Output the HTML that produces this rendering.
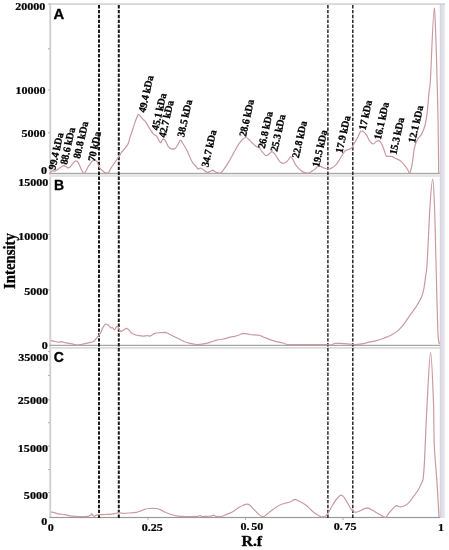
<!DOCTYPE html>
<html><head><meta charset="utf-8"><style>
html,body{margin:0;padding:0;background:#fff;}
body{width:449px;height:550px;overflow:hidden;}
svg{display:block;}
text{filter:grayscale(1);}
</style></head><body>
<svg width="449" height="550" viewBox="0 0 449 550">
<rect width="449" height="550" fill="#fff"/>
<defs><linearGradient id="band" x1="0" x2="1" y1="0" y2="0"><stop offset="0" stop-color="#cfcfd7"/><stop offset="0.3" stop-color="#dddbe6"/><stop offset="0.7" stop-color="#e4e2ec"/><stop offset="1" stop-color="#f1f0f5"/></linearGradient></defs>
<rect x="439.8" y="4" width="5.4" height="514" fill="url(#band)"/>
<rect x="49.4" y="3.3" width="395.6" height="1.5" fill="#cfcfcf"/>
<rect x="49.3" y="3.3" width="1.9" height="514.5" fill="#d0d0d0"/>
<rect x="49.4" y="172.8" width="390.6" height="1.3" fill="#a9a9a9"/>
<rect x="49.4" y="174.1" width="390.6" height="2.9" fill="#e6e6e6"/>
<rect x="49.4" y="344.8" width="390.6" height="1.1" fill="#9c9c9c"/>
<rect x="49.4" y="347" width="390.6" height="1.8" fill="#dcdcdc"/>
<rect x="49.4" y="516.9" width="390.6" height="1.2" fill="#9a9a9a"/>
<rect x="48" y="3.5" width="2" height="1" fill="#b0b0b0"/>
<rect x="48" y="48.3" width="2" height="1" fill="#b0b0b0"/>
<rect x="48" y="89.5" width="2" height="1" fill="#b0b0b0"/>
<rect x="48" y="132.3" width="2" height="1" fill="#b0b0b0"/>
<rect x="48" y="234.0" width="2" height="1" fill="#b0b0b0"/>
<rect x="48" y="289.5" width="2" height="1" fill="#b0b0b0"/>
<rect x="48" y="350.9" width="2" height="1" fill="#b0b0b0"/>
<rect x="48" y="374.9" width="2" height="1" fill="#b0b0b0"/>
<rect x="48" y="399.3" width="2" height="1" fill="#b0b0b0"/>
<rect x="48" y="422.2" width="2" height="1" fill="#b0b0b0"/>
<rect x="48" y="445.5" width="2" height="1" fill="#b0b0b0"/>
<rect x="48" y="469.1" width="2" height="1" fill="#b0b0b0"/>
<rect x="48" y="492.0" width="2" height="1" fill="#b0b0b0"/>
<rect x="147.5" y="518" width="1" height="2" fill="#b0b0b0"/>
<rect x="245.0" y="518" width="1" height="2" fill="#b0b0b0"/>
<rect x="342.5" y="518" width="1" height="2" fill="#b0b0b0"/>
<line x1="99.0" y1="5" x2="99.0" y2="518" stroke="#1a1a1a" stroke-width="2.0" stroke-dasharray="3.4 1.5"/>
<line x1="118.8" y1="5" x2="118.8" y2="518" stroke="#1a1a1a" stroke-width="2.0" stroke-dasharray="3.4 1.5"/>
<line x1="327.9" y1="5" x2="327.9" y2="518" stroke="#1a1a1a" stroke-width="1.4" stroke-dasharray="3.4 1.5"/>
<line x1="352.8" y1="5" x2="352.8" y2="518" stroke="#1a1a1a" stroke-width="1.4" stroke-dasharray="3.4 1.5"/>
<path d="M49.70,173.40C49.97,173.12 50.75,172.17 51.30,171.70C51.85,171.23 52.43,170.68 53.00,170.60C53.57,170.60 54.05,171.20 54.70,171.20C55.35,171.10 56.17,170.47 56.90,170.00C57.63,169.53 58.35,168.95 59.10,168.40C59.85,167.85 60.65,167.17 61.40,166.70C62.15,166.23 62.87,165.63 63.60,165.60C64.33,165.60 65.07,166.13 65.80,166.50C66.53,166.87 67.25,167.77 68.00,167.80C68.75,167.80 69.55,167.35 70.30,166.70C71.05,166.05 71.67,164.83 72.50,163.90C73.33,162.97 74.55,161.57 75.30,161.10C76.05,161.10 76.45,161.10 77.00,161.10C77.55,161.48 77.95,162.18 78.60,163.40C79.25,164.62 80.15,166.83 80.90,168.40C81.65,169.97 82.55,171.97 83.10,172.80C83.65,173.40 83.73,173.40 84.20,173.40C84.67,173.13 85.25,172.32 85.90,171.20C86.55,170.08 87.27,168.10 88.10,166.70C88.93,165.30 90.07,163.82 90.90,162.80C91.73,161.78 92.45,161.07 93.10,160.60C93.75,160.13 94.15,160.00 94.80,160.00C95.45,160.18 96.33,160.68 97.00,161.70C97.67,162.72 98.07,164.73 98.80,166.10C99.53,167.47 100.45,168.88 101.40,169.90C102.35,170.92 103.55,171.67 104.50,172.20C105.45,172.73 106.35,173.10 107.10,173.10C107.85,173.03 108.27,172.77 109.00,171.80C109.73,170.83 110.43,169.00 111.50,167.30C112.57,165.60 114.23,163.28 115.40,161.60C116.57,159.92 117.45,158.78 118.50,157.20C119.55,155.62 120.53,153.70 121.70,152.10C122.87,150.50 124.43,148.98 125.50,147.60C126.57,146.22 127.25,145.82 128.10,143.80C128.95,141.78 129.75,138.15 130.60,135.50C131.45,132.85 132.35,130.43 133.20,127.90C134.05,125.37 134.85,122.53 135.70,120.30C136.55,118.07 137.55,115.25 138.30,114.50C139.05,114.50 139.37,114.95 140.20,115.80C141.03,116.65 142.48,118.70 143.30,119.60C144.12,120.50 143.88,119.60 145.10,121.20C146.32,122.97 149.12,127.97 150.60,130.20C152.08,132.43 153.07,133.68 154.00,134.60C154.93,135.52 155.28,134.60 156.20,135.70C157.12,136.82 158.75,140.10 159.50,141.30C160.25,142.50 160.13,142.90 160.70,142.90C161.27,142.53 162.17,139.55 162.90,139.10C163.63,139.10 164.17,139.10 165.10,140.20C166.03,141.50 167.38,145.42 168.50,146.90C169.62,148.38 170.70,148.82 171.80,149.10C172.90,149.10 173.98,149.10 175.10,148.60C176.22,147.67 177.63,144.90 178.50,143.50C179.37,142.10 179.57,140.20 180.30,140.20C181.03,140.20 181.72,141.65 182.90,143.50C184.08,145.35 185.92,148.33 187.40,151.30C188.88,154.27 190.32,158.70 191.80,161.30C193.28,163.90 195.22,165.60 196.30,166.90C197.38,168.20 197.58,168.92 198.30,169.10C199.02,169.10 199.67,168.00 200.60,168.00C201.53,168.18 202.80,169.47 203.90,170.20C205.00,170.93 206.08,172.22 207.20,172.40C208.32,172.40 209.67,171.67 210.60,171.30C211.53,170.93 211.87,170.20 212.80,170.20C213.73,170.38 214.90,171.92 216.20,172.40C217.50,172.88 219.30,173.10 220.60,173.10C221.90,172.55 222.70,170.88 224.00,169.10C225.30,167.32 226.73,165.18 228.40,162.40C230.07,159.62 232.33,155.37 234.00,152.40C235.67,149.43 236.92,146.83 238.40,144.60C239.88,142.37 241.67,140.18 242.90,139.00C244.13,137.82 244.87,137.50 245.80,137.50C246.73,137.50 247.32,138.00 248.50,139.00C249.68,140.00 251.62,142.27 252.90,143.50C254.18,144.73 255.08,145.67 256.20,146.40C257.32,147.13 258.67,147.08 259.60,147.90C260.53,148.72 260.68,150.00 261.80,151.30C262.92,152.60 265.00,155.33 266.30,155.70C267.60,155.70 268.68,154.17 269.60,153.50C270.52,152.83 270.87,151.70 271.80,151.70C272.73,151.88 273.90,153.00 275.20,154.60C276.50,156.20 278.22,159.85 279.60,161.30C280.98,162.75 282.23,163.30 283.50,163.30C284.77,163.30 286.02,162.38 287.20,161.30C288.38,160.22 289.67,157.17 290.60,156.80C291.53,156.80 291.87,157.62 292.80,159.10C293.73,160.58 294.90,163.85 296.20,165.70C297.50,167.55 299.30,169.08 300.60,170.20C301.90,171.32 302.70,171.92 304.00,172.40C305.30,172.88 307.12,173.10 308.40,173.10C309.68,172.92 310.58,171.97 311.70,171.30C312.82,170.63 313.98,170.03 315.10,169.10C316.22,168.17 317.47,166.15 318.40,165.70C319.33,165.70 319.77,166.02 320.70,166.40C321.63,166.78 322.70,167.55 324.00,168.00C325.30,168.45 327.20,169.10 328.50,169.10C329.80,169.10 330.70,168.57 331.80,168.00C332.90,167.43 333.98,166.82 335.10,165.70C336.22,164.58 337.38,162.97 338.50,161.30C339.62,159.63 340.68,157.45 341.80,155.70C342.92,153.95 344.08,151.83 345.20,150.80C346.32,149.77 347.40,149.98 348.50,149.50C349.60,149.02 350.87,148.90 351.80,147.90C352.73,146.90 353.17,145.17 354.10,143.50C355.03,141.83 356.30,139.95 357.40,137.90C358.50,135.85 359.77,132.32 360.70,131.20C361.63,131.20 362.07,131.20 363.00,131.20C363.93,131.77 365.18,132.93 366.30,134.60C367.42,136.27 368.58,139.63 369.70,141.20C370.82,142.77 371.97,143.90 373.00,144.00C374.03,144.00 374.88,142.35 375.90,141.80C376.92,141.25 378.05,140.70 379.10,140.70C380.15,141.22 381.30,143.15 382.20,144.90C383.10,146.65 383.77,149.30 384.50,151.20C385.23,153.10 385.42,155.43 386.60,156.30C387.78,156.40 390.07,156.30 391.60,156.40C393.13,156.77 394.40,157.80 395.80,158.50C397.20,159.20 398.60,159.55 400.00,160.60C401.40,161.65 402.98,163.40 404.20,164.80C405.42,166.20 406.37,167.60 407.30,169.00C408.23,170.40 408.98,173.20 409.80,173.20C410.62,172.32 411.40,168.07 412.20,163.70C413.00,159.33 413.63,151.18 414.60,147.00C415.57,142.82 416.85,140.70 418.00,138.60C419.15,136.50 420.32,136.67 421.50,134.40C422.68,132.13 424.15,128.67 425.10,125.00C426.05,121.33 426.55,117.80 427.20,112.40C427.85,107.00 428.47,98.00 429.00,92.60C429.53,87.20 429.52,92.60 430.40,80.00C431.28,65.93 433.10,8.20 434.30,8.20C435.50,11.53 436.87,72.53 437.60,100.00C438.33,127.47 438.52,160.83 438.70,173.00" fill="none" stroke="#c99aa2" stroke-width="1.2" stroke-linejoin="round"/>
<path d="M51.00,340.50C51.57,340.65 53.17,341.13 54.40,341.40C55.63,341.67 57.18,342.05 58.40,342.10C59.62,342.10 60.60,341.70 61.70,341.70C62.80,341.80 63.78,342.42 65.00,342.70C66.22,342.98 67.65,343.17 69.00,343.40C70.35,343.63 71.75,343.83 73.10,344.10C74.45,344.37 75.77,344.93 77.10,345.00C78.43,345.00 79.77,344.72 81.10,344.50C82.43,344.28 83.77,344.00 85.10,343.70C86.43,343.40 87.77,343.02 89.10,342.70C90.43,342.38 92.12,342.25 93.10,341.80C94.08,341.35 94.23,340.85 95.00,340.00C95.77,339.15 96.82,337.80 97.70,336.70C98.58,335.60 99.42,334.95 100.30,333.40C101.18,331.85 102.10,328.97 103.00,327.40C103.90,325.83 104.92,324.45 105.70,324.00C106.48,324.00 107.03,324.25 107.70,324.70C108.37,325.15 109.15,326.15 109.70,326.70C110.25,327.25 110.55,327.88 111.00,328.00C111.45,328.00 111.83,327.40 112.40,327.40C112.97,327.73 113.73,330.00 114.40,330.00C115.07,329.88 115.85,327.37 116.40,326.70C116.95,326.03 117.27,326.00 117.70,326.00C118.13,326.45 118.43,328.50 119.00,329.40C119.57,330.30 120.32,331.30 121.10,331.40C121.88,331.40 122.82,330.50 123.70,330.00C124.58,329.50 125.62,328.50 126.40,328.40C127.18,328.40 127.62,328.68 128.40,329.40C129.18,330.12 129.98,331.82 131.10,332.70C132.22,333.58 133.77,334.20 135.10,334.70C136.43,335.20 137.77,335.47 139.10,335.70C140.43,335.93 141.77,336.10 143.10,336.10C144.43,336.10 145.98,335.70 147.10,335.70C148.22,335.70 148.90,336.10 149.80,336.10C150.70,335.93 151.63,335.15 152.50,334.70C153.37,334.25 153.75,333.73 155.00,333.40C156.25,333.07 158.23,332.88 160.00,332.70C161.77,332.52 163.93,332.30 165.60,332.30C167.27,332.60 168.15,333.58 170.00,334.50C171.85,335.42 174.47,336.68 176.70,337.80C178.93,338.92 181.17,340.27 183.40,341.20C185.63,342.13 187.87,342.85 190.10,343.40C192.33,343.95 194.57,344.42 196.80,344.50C199.03,344.50 201.28,344.27 203.50,343.90C205.72,343.53 207.88,342.93 210.10,342.30C212.32,341.67 214.57,340.65 216.80,340.10C219.03,339.55 221.27,339.48 223.50,339.00C225.73,338.52 228.35,337.65 230.20,337.20C232.05,336.75 233.12,336.67 234.60,336.30C236.08,335.93 237.62,335.48 239.10,335.00C240.58,334.52 241.68,333.48 243.50,333.40C245.32,333.40 247.52,334.20 250.00,334.50C252.48,334.80 256.27,334.83 258.40,335.20C260.53,335.57 260.95,336.00 262.80,336.70C264.65,337.40 267.27,338.58 269.50,339.40C271.73,340.22 273.97,341.00 276.20,341.60C278.43,342.20 281.05,342.52 282.90,343.00C284.75,343.48 285.45,344.25 287.30,344.50C289.15,344.50 291.40,344.50 294.00,344.50C296.60,344.53 299.93,344.70 302.90,344.70C305.87,344.70 308.83,344.50 311.80,344.50C314.77,344.50 318.28,344.70 320.70,344.70C323.12,344.70 324.63,344.50 326.30,344.50C327.97,344.55 329.22,345.00 330.70,345.00C332.18,344.82 333.52,343.67 335.20,343.40C336.88,343.40 338.78,343.40 340.80,343.40C342.82,343.47 345.00,343.62 347.30,343.80C349.60,343.98 352.18,344.50 354.60,344.50C357.02,344.50 359.38,344.20 361.80,343.80C364.22,343.40 366.67,342.63 369.10,342.10C371.53,341.57 373.97,341.25 376.40,340.60C378.83,339.95 381.27,339.08 383.70,338.20C386.13,337.32 388.57,336.60 391.00,335.30C393.43,334.00 396.08,332.35 398.30,330.40C400.52,328.45 402.28,326.23 404.30,323.60C406.32,320.97 408.37,317.52 410.40,314.60C412.43,311.68 414.68,308.93 416.50,306.10C418.32,303.27 420.08,300.43 421.30,297.60C422.52,294.77 423.10,292.53 423.80,289.10C424.50,285.67 424.93,281.52 425.50,277.00C426.07,272.48 426.45,273.78 427.20,262.00C427.95,250.22 429.08,220.12 430.00,206.30C430.92,192.48 431.95,179.10 432.70,179.10C433.45,179.10 433.95,192.48 434.50,206.30C435.05,220.12 435.43,240.92 436.00,262.00C436.57,283.08 437.32,319.13 437.90,332.80C438.48,344.00 439.23,342.13 439.50,344.00" fill="none" stroke="#c99aa2" stroke-width="1.2" stroke-linejoin="round"/>
<path d="M51.00,512.00C51.57,512.12 53.17,512.40 54.40,512.70C55.63,513.00 56.63,513.47 58.40,513.80C60.17,514.13 62.78,514.32 65.00,514.70C67.22,515.08 69.25,515.80 71.70,516.10C74.15,516.40 77.02,516.47 79.70,516.50C82.38,516.50 86.02,516.48 87.80,516.30C89.58,516.12 89.73,515.82 90.40,515.40C91.07,514.98 91.40,513.85 91.80,513.80C92.20,513.80 92.40,514.65 92.80,515.10C93.20,515.55 93.70,516.45 94.20,516.50C94.70,516.50 94.87,515.70 95.80,515.40C96.73,515.10 98.25,514.85 99.80,514.70C101.35,514.55 103.10,514.60 105.10,514.50C107.10,514.40 109.75,514.35 111.80,514.10C113.85,513.85 116.10,513.23 117.40,513.00C118.70,512.77 118.67,512.70 119.60,512.70C120.53,512.77 121.33,513.35 123.00,513.40C124.67,513.40 127.38,513.18 129.60,513.00C131.82,512.82 134.57,512.60 136.30,512.30C138.03,512.00 138.63,511.68 140.00,511.20C141.37,510.72 143.02,509.85 144.50,509.40C145.98,508.95 147.42,508.68 148.90,508.50C150.38,508.32 152.10,508.30 153.40,508.30C154.70,508.30 155.40,508.30 156.70,508.50C158.00,508.80 159.72,509.47 161.20,510.10C162.68,510.73 163.93,511.57 165.60,512.30C167.27,513.03 169.15,513.87 171.20,514.50C173.25,515.13 175.68,515.77 177.90,516.10C180.12,516.43 182.28,516.43 184.50,516.50C186.72,516.50 188.97,516.50 191.20,516.50C193.43,516.47 196.42,516.45 197.90,516.30C199.38,516.15 199.35,515.60 200.10,515.60C200.85,515.63 201.28,516.38 202.40,516.50C203.52,516.50 205.32,516.37 206.80,516.30C208.28,516.23 210.18,516.28 211.30,516.10C212.42,515.92 212.77,515.20 213.50,515.20C214.23,515.23 214.58,516.05 215.70,516.30C216.82,516.55 218.72,516.70 220.20,516.70C221.68,516.52 223.12,515.75 224.60,515.20C226.08,514.65 227.62,514.07 229.10,513.40C230.58,512.73 231.87,512.20 233.50,511.20C235.13,510.20 237.25,508.40 238.90,507.40C240.55,506.40 242.10,505.75 243.40,505.20C244.70,504.65 245.60,504.10 246.70,504.10C247.80,504.10 248.70,504.20 250.00,505.20C251.30,506.20 253.00,508.55 254.50,510.10C256.00,511.65 257.58,513.38 259.00,514.50C260.42,515.62 261.72,516.80 263.00,516.80C264.28,516.80 265.33,515.50 266.70,514.50C268.07,513.50 269.52,512.10 271.20,510.80C272.88,509.50 275.13,507.75 276.80,506.70C278.47,505.65 279.72,505.12 281.20,504.50C282.68,503.88 284.40,503.37 285.70,503.00C287.00,502.63 287.88,502.68 289.00,502.30C290.12,501.92 291.40,501.18 292.40,500.70C293.40,500.22 293.90,499.40 295.00,499.40C296.10,499.48 297.58,500.53 299.00,501.20C300.42,501.87 302.02,502.48 303.50,503.40C304.98,504.32 306.42,505.40 307.90,506.70C309.38,508.00 310.90,509.90 312.40,511.20C313.90,512.50 315.42,513.57 316.90,514.50C318.38,515.43 320.00,516.42 321.30,516.80C322.60,516.80 323.58,516.80 324.70,516.80C325.82,516.23 326.75,515.25 328.00,513.40C329.25,511.55 330.75,508.10 332.20,505.70C333.65,503.30 335.20,500.75 336.70,499.00C338.20,497.25 339.90,495.38 341.20,495.20C342.50,495.20 343.40,496.53 344.50,497.90C345.60,499.27 346.68,501.48 347.80,503.40C348.92,505.32 349.90,507.92 351.20,509.40C352.50,510.88 354.12,512.07 355.60,512.30C357.08,512.30 358.62,511.42 360.10,510.80C361.58,510.18 363.20,509.08 364.50,508.60C365.80,508.12 366.60,507.90 367.90,507.90C369.20,508.15 370.63,509.17 372.30,510.10C373.97,511.03 376.22,512.50 377.90,513.50C379.58,514.50 381.10,515.43 382.40,516.10C383.70,516.77 384.60,517.50 385.70,517.50C386.80,516.98 387.70,514.60 389.00,513.00C390.30,511.40 392.20,509.12 393.50,507.90C394.80,506.68 395.68,505.88 396.80,505.70C397.92,505.70 398.90,506.80 400.20,506.80C401.50,506.80 403.12,506.45 404.60,505.70C406.08,504.95 407.62,503.80 409.10,502.30C410.58,500.80 412.02,498.70 413.50,496.70C414.98,494.70 416.72,492.45 418.00,490.30C419.28,488.15 420.37,485.63 421.20,483.80C422.03,481.97 422.48,482.50 423.00,479.30C423.52,476.10 423.93,470.28 424.30,464.60C424.67,458.92 424.70,455.97 425.20,445.20C425.70,434.43 426.40,415.48 427.30,400.00C428.20,384.52 429.58,352.30 430.60,352.30C431.62,352.30 432.78,384.52 433.40,400.00C434.02,415.48 433.72,431.70 434.30,445.20C434.88,458.70 436.12,469.03 436.90,481.00C437.68,492.97 438.65,511.00 439.00,517.00" fill="none" stroke="#c99aa2" stroke-width="1.2" stroke-linejoin="round"/>
<text transform="translate(45.30,6.40) scale(1.05,0.92)" y="3.80" text-anchor="end" style="font-family:'Liberation Serif',serif;font-weight:bold;font-size:11.5px;stroke:#000;stroke-width:0.25px" xml:space="preserve">20000</text>
<text transform="translate(45.60,90.40) scale(1.05,0.92)" y="3.80" text-anchor="end" style="font-family:'Liberation Serif',serif;font-weight:bold;font-size:11.5px;stroke:#000;stroke-width:0.25px" xml:space="preserve">10000</text>
<text transform="translate(45.60,133.40) scale(1.05,0.92)" y="3.80" text-anchor="end" style="font-family:'Liberation Serif',serif;font-weight:bold;font-size:11.5px;stroke:#000;stroke-width:0.25px" xml:space="preserve">5000</text>
<text transform="translate(47.00,170.00) scale(1.05,0.92)" y="3.80" text-anchor="end" style="font-family:'Liberation Serif',serif;font-weight:bold;font-size:11.5px;stroke:#000;stroke-width:0.25px" xml:space="preserve">0</text>
<text transform="translate(48.30,182.70) scale(1.05,0.92)" y="3.80" text-anchor="end" style="font-family:'Liberation Serif',serif;font-weight:bold;font-size:11.5px;stroke:#000;stroke-width:0.25px" xml:space="preserve">15000</text>
<text transform="translate(48.30,236.50) scale(1.05,0.92)" y="3.80" text-anchor="end" style="font-family:'Liberation Serif',serif;font-weight:bold;font-size:11.5px;stroke:#000;stroke-width:0.25px" xml:space="preserve">10000</text>
<text transform="translate(48.30,291.00) scale(1.05,0.92)" y="3.80" text-anchor="end" style="font-family:'Liberation Serif',serif;font-weight:bold;font-size:11.5px;stroke:#000;stroke-width:0.25px" xml:space="preserve">5000</text>
<text transform="translate(47.80,345.50) scale(1.05,0.92)" y="3.80" text-anchor="end" style="font-family:'Liberation Serif',serif;font-weight:bold;font-size:11.5px;stroke:#000;stroke-width:0.25px" xml:space="preserve">0</text>
<text transform="translate(48.40,357.00) scale(1.05,0.92)" y="3.80" text-anchor="end" style="font-family:'Liberation Serif',serif;font-weight:bold;font-size:11.5px;stroke:#000;stroke-width:0.25px" xml:space="preserve">35000</text>
<text transform="translate(48.00,400.00) scale(1.05,0.92)" y="3.80" text-anchor="end" style="font-family:'Liberation Serif',serif;font-weight:bold;font-size:11.5px;stroke:#000;stroke-width:0.25px" xml:space="preserve">25000</text>
<text transform="translate(48.00,448.30) scale(1.05,0.92)" y="3.80" text-anchor="end" style="font-family:'Liberation Serif',serif;font-weight:bold;font-size:11.5px;stroke:#000;stroke-width:0.25px" xml:space="preserve">15000</text>
<text transform="translate(48.00,495.30) scale(1.05,0.92)" y="3.80" text-anchor="end" style="font-family:'Liberation Serif',serif;font-weight:bold;font-size:11.5px;stroke:#000;stroke-width:0.25px" xml:space="preserve">5000</text>
<text transform="translate(47.40,521.00) scale(1.05,0.92)" y="3.80" text-anchor="end" style="font-family:'Liberation Serif',serif;font-weight:bold;font-size:11.5px;stroke:#000;stroke-width:0.25px" xml:space="preserve">0</text>
<text transform="translate(50.80,527.00) scale(1.05,0.92)" y="3.80" text-anchor="middle" style="font-family:'Liberation Serif',serif;font-weight:bold;font-size:11.5px;word-spacing:-1.3px;stroke:#000;stroke-width:0.25px" xml:space="preserve">0</text>
<text transform="translate(152.20,527.00) scale(1.05,0.92)" y="3.80" text-anchor="middle" style="font-family:'Liberation Serif',serif;font-weight:bold;font-size:11.5px;word-spacing:-1.3px;stroke:#000;stroke-width:0.25px" xml:space="preserve">0.25</text>
<text transform="translate(251.90,526.00) scale(1.05,0.92)" y="3.80" text-anchor="middle" style="font-family:'Liberation Serif',serif;font-weight:bold;font-size:11.5px;word-spacing:-1.3px;stroke:#000;stroke-width:0.25px" xml:space="preserve">0. 50</text>
<text transform="translate(345.20,526.70) scale(1.05,0.92)" y="3.80" text-anchor="middle" style="font-family:'Liberation Serif',serif;font-weight:bold;font-size:11.5px;word-spacing:-1.3px;stroke:#000;stroke-width:0.25px" xml:space="preserve">0. 75</text>
<text transform="translate(441.00,527.30) scale(1.05,0.92)" y="3.80" text-anchor="middle" style="font-family:'Liberation Serif',serif;font-weight:bold;font-size:11.5px;word-spacing:-1.3px;stroke:#000;stroke-width:0.25px" xml:space="preserve">1</text>
<text transform="translate(251.80,541.00) scale(0.99,0.88)" y="5.28" text-anchor="middle" style="font-family:'Liberation Serif',serif;font-weight:bold;font-size:16px;stroke:#000;stroke-width:0.35px" xml:space="preserve">R.f</text>
<text transform="translate(9.60,261.00) scale(1.18,0.985) rotate(-90)" y="4.95" text-anchor="middle" style="font-family:'Liberation Serif',serif;font-weight:bold;font-size:15px;stroke:#000;stroke-width:0.25px" xml:space="preserve">Intensity</text>
<text transform="translate(58.80,14.60) scale(1.06,1.0)" y="4.62" text-anchor="middle" style="font-family:'Liberation Sans',sans-serif;font-weight:bold;font-size:14px;stroke:#000;stroke-width:0.3px" xml:space="preserve">A</text>
<text transform="translate(59.00,185.30) scale(1.0,1.0)" y="4.62" text-anchor="middle" style="font-family:'Liberation Sans',sans-serif;font-weight:bold;font-size:14px;stroke:#000;stroke-width:0.3px" xml:space="preserve">B</text>
<text transform="translate(58.80,357.20) scale(1.0,1.0)" y="4.62" text-anchor="middle" style="font-family:'Liberation Sans',sans-serif;font-weight:bold;font-size:14px;stroke:#000;stroke-width:0.3px" xml:space="preserve">C</text>
<text transform="translate(56.00,151.20) scale(1.0,0.95) rotate(-78)" y="3.50" text-anchor="middle" style="font-family:'Liberation Serif',serif;font-weight:bold;font-size:10.6px;word-spacing:-0.4px;stroke:#000;stroke-width:0.3px" xml:space="preserve">99.4 kDa</text>
<text transform="translate(67.70,146.00) scale(1.0,0.95) rotate(-78)" y="3.50" text-anchor="middle" style="font-family:'Liberation Serif',serif;font-weight:bold;font-size:10.6px;word-spacing:-0.4px;stroke:#000;stroke-width:0.3px" xml:space="preserve">88.6 kDa</text>
<text transform="translate(80.80,140.00) scale(1.0,0.95) rotate(-78)" y="3.50" text-anchor="middle" style="font-family:'Liberation Serif',serif;font-weight:bold;font-size:10.6px;word-spacing:-0.4px;stroke:#000;stroke-width:0.3px" xml:space="preserve">80.8 kDa</text>
<text transform="translate(94.50,146.40) scale(1.0,0.95) rotate(-78)" y="3.50" text-anchor="middle" style="font-family:'Liberation Serif',serif;font-weight:bold;font-size:10.6px;word-spacing:-0.4px;stroke:#000;stroke-width:0.3px" xml:space="preserve">70 kDa</text>
<text transform="translate(146.00,94.00) scale(1.0,0.95) rotate(-78)" y="3.50" text-anchor="middle" style="font-family:'Liberation Serif',serif;font-weight:bold;font-size:10.6px;word-spacing:-0.4px;stroke:#000;stroke-width:0.3px" xml:space="preserve">49.4 kDa</text>
<text transform="translate(159.00,111.70) scale(1.0,0.95) rotate(-78)" y="3.50" text-anchor="middle" style="font-family:'Liberation Serif',serif;font-weight:bold;font-size:10.6px;word-spacing:-0.4px;stroke:#000;stroke-width:0.3px" xml:space="preserve">45.1 kDa</text>
<text transform="translate(166.20,119.00) scale(1.0,0.95) rotate(-78)" y="3.50" text-anchor="middle" style="font-family:'Liberation Serif',serif;font-weight:bold;font-size:10.6px;word-spacing:-0.4px;stroke:#000;stroke-width:0.3px" xml:space="preserve">42.7 kDa</text>
<text transform="translate(184.70,118.30) scale(1.0,0.95) rotate(-78)" y="3.50" text-anchor="middle" style="font-family:'Liberation Serif',serif;font-weight:bold;font-size:10.6px;word-spacing:-0.4px;stroke:#000;stroke-width:0.3px" xml:space="preserve">38.5 kDa</text>
<text transform="translate(209.00,148.50) scale(1.0,0.95) rotate(-78)" y="3.50" text-anchor="middle" style="font-family:'Liberation Serif',serif;font-weight:bold;font-size:10.6px;word-spacing:-0.4px;stroke:#000;stroke-width:0.3px" xml:space="preserve">34.7 kDa</text>
<text transform="translate(246.60,118.00) scale(1.0,0.95) rotate(-78)" y="3.50" text-anchor="middle" style="font-family:'Liberation Serif',serif;font-weight:bold;font-size:10.6px;word-spacing:-0.4px;stroke:#000;stroke-width:0.3px" xml:space="preserve">28.6 kDa</text>
<text transform="translate(265.40,130.00) scale(1.0,0.95) rotate(-78)" y="3.50" text-anchor="middle" style="font-family:'Liberation Serif',serif;font-weight:bold;font-size:10.6px;word-spacing:-0.4px;stroke:#000;stroke-width:0.3px" xml:space="preserve">26.8 kDa</text>
<text transform="translate(278.00,133.00) scale(1.0,0.95) rotate(-78)" y="3.50" text-anchor="middle" style="font-family:'Liberation Serif',serif;font-weight:bold;font-size:10.6px;word-spacing:-0.4px;stroke:#000;stroke-width:0.3px" xml:space="preserve">25.3 kDa</text>
<text transform="translate(299.50,139.50) scale(1.0,0.95) rotate(-78)" y="3.50" text-anchor="middle" style="font-family:'Liberation Serif',serif;font-weight:bold;font-size:10.6px;word-spacing:-0.4px;stroke:#000;stroke-width:0.3px" xml:space="preserve">22.8 kDa</text>
<text transform="translate(319.80,148.50) scale(1.0,0.95) rotate(-78)" y="3.50" text-anchor="middle" style="font-family:'Liberation Serif',serif;font-weight:bold;font-size:10.6px;word-spacing:-0.4px;stroke:#000;stroke-width:0.3px" xml:space="preserve">19.5 kDa</text>
<text transform="translate(343.00,134.30) scale(1.0,0.95) rotate(-78)" y="3.50" text-anchor="middle" style="font-family:'Liberation Serif',serif;font-weight:bold;font-size:10.6px;word-spacing:-0.4px;stroke:#000;stroke-width:0.3px" xml:space="preserve">17.9 kDa</text>
<text transform="translate(365.40,115.00) scale(1.0,0.95) rotate(-78)" y="3.50" text-anchor="middle" style="font-family:'Liberation Serif',serif;font-weight:bold;font-size:10.6px;word-spacing:-0.4px;stroke:#000;stroke-width:0.3px" xml:space="preserve">17 kDa</text>
<text transform="translate(381.50,120.80) scale(1.0,0.95) rotate(-78)" y="3.50" text-anchor="middle" style="font-family:'Liberation Serif',serif;font-weight:bold;font-size:10.6px;word-spacing:-0.4px;stroke:#000;stroke-width:0.3px" xml:space="preserve">16.1 kDa</text>
<text transform="translate(396.90,136.00) scale(1.0,0.95) rotate(-78)" y="3.50" text-anchor="middle" style="font-family:'Liberation Serif',serif;font-weight:bold;font-size:10.6px;word-spacing:-0.4px;stroke:#000;stroke-width:0.3px" xml:space="preserve">15.3 kDa</text>
<text transform="translate(415.80,124.10) scale(1.0,0.95) rotate(-78)" y="3.50" text-anchor="middle" style="font-family:'Liberation Serif',serif;font-weight:bold;font-size:10.6px;word-spacing:-0.4px;stroke:#000;stroke-width:0.3px" xml:space="preserve">12.1 kDa</text>
</svg>
</body></html>
